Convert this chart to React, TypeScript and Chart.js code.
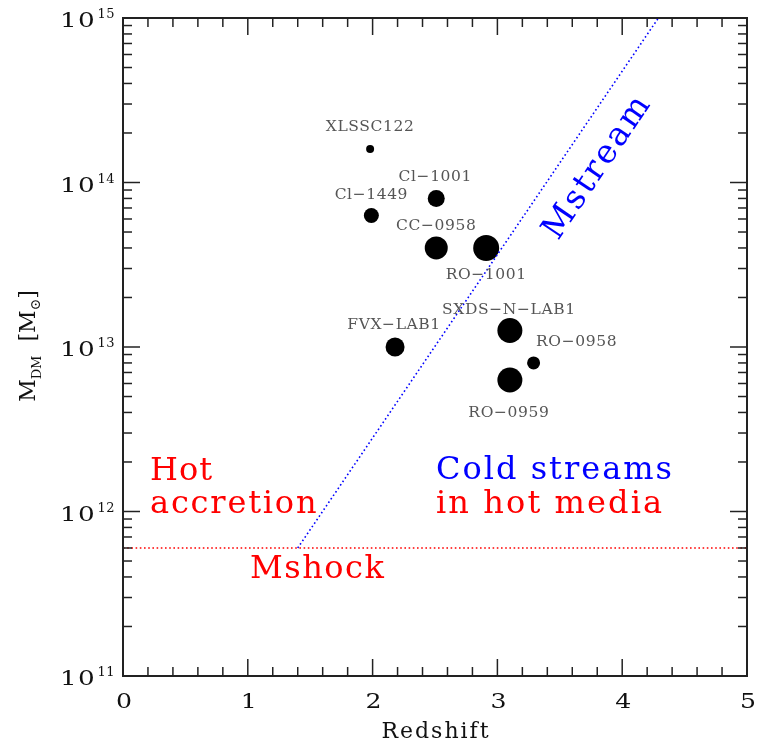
import React, { useEffect, useRef } from "react";
import { Chart, registerables } from "chart.js";

Chart.register(...registerables);

// ---- data ----
const clusterNames = ["XLSSC122", "Cl−1449", "Cl−1001", "CC−0958", "RO−1001", "FVX−LAB1", "SXDS−N−LAB1", "RO−0958", "RO−0959"];
const redshifts = [1.98, 1.99, 2.51, 2.51, 2.91, 2.18, 3.1, 3.29, 3.1];
const haloMasses = [1.6e14, 6.3e13, 8e13, 4e13, 4e13, 1e13, 1.26e13, 8e12, 6.3e12];
const markerRadii = [4, 7.5, 8.5, 11.5, 13, 9.5, 12.5, 6.5, 12.5];

const mshockZ = [0, 5];
const mshockMass = [6e11, 6e11];
const mstreamZ = [1.4, 4.29];
const mstreamMass = [6e11, 1e15];

const xTickValues = [0, 1, 2, 3, 4, 5];
const yTickExponents = [11, 12, 13, 14, 15];

// ---- layout (label offsets from their markers, px) ----
const labelOffsets: [number, number][] = [
  [0, -22], [0, -21], [-1, -21], [0, -22], [0, 27], [-1, -22], [-1, -21], [43, -21], [-1, 33],
];

const SERIF = '"DejaVu Serif", serif';

function txt(ctx: CanvasRenderingContext2D, s: string, x: number, y: number, size: number, color: string, align: CanvasTextAlign = "left", spacing = 0, baseline: CanvasTextBaseline = "alphabetic", scaleX = 1) {
  ctx.save();
  ctx.font = `${size}px ${SERIF}`;
  (ctx as any).letterSpacing = `${spacing}px`;
  ctx.fillStyle = color;
  ctx.textAlign = align;
  ctx.textBaseline = baseline;
  ctx.translate(x, y);
  ctx.scale(scaleX, 1);
  ctx.fillText(s, 0, 0);
  const w = ctx.measureText(s).width * scaleX;
  ctx.restore();
  return w;
}

const framePlugin = {
  id: "framePlugin",
  beforeDraw(chart: any) {
    const ctx = chart.ctx;
    ctx.save();
    ctx.fillStyle = "#fff";
    ctx.fillRect(0, 0, chart.width, chart.height);
    ctx.restore();
  },
  afterDraw(chart: any) {
    const ctx: CanvasRenderingContext2D = chart.ctx;
    const a = chart.chartArea;
    const xs = chart.scales.x;
    const ys = chart.scales.y;
    ctx.save();

    // frame
    ctx.strokeStyle = "#222";
    ctx.lineWidth = 2;
    ctx.strokeRect(a.left, a.top, a.right - a.left, a.bottom - a.top);

    // ticks
    ctx.lineWidth = 1.5;
    const line = (x1: number, y1: number, x2: number, y2: number) => {
      ctx.beginPath();
      ctx.moveTo(x1, y1);
      ctx.lineTo(x2, y2);
      ctx.stroke();
    };
    const xmin = xTickValues[0];
    const xmax = xTickValues[xTickValues.length - 1];
    for (let i = 0; i <= (xmax - xmin) * 5; i++) {
      const v = xmin + i * 0.2;
      const px = xs.getPixelForValue(v);
      const len = i % 5 === 0 ? 17 : 9;
      line(px, a.bottom, px, a.bottom - len);
      line(px, a.top, px, a.top + len);
    }
    for (let k = 0; k < yTickExponents.length; k++) {
      const e = yTickExponents[k];
      const maxM = k === yTickExponents.length - 1 ? 1 : 9;
      for (let m = 1; m <= maxM; m++) {
        const py = ys.getPixelForValue(m * Math.pow(10, e));
        const len = m === 1 ? 17 : 9;
        line(a.left, py, a.left + len, py);
        line(a.right, py, a.right - len, py);
      }
    }

    // y tick labels
    for (const e of yTickExponents) {
      const py = ys.getPixelForValue(Math.pow(10, e));
      txt(ctx, "10", 96, py + 9, 21, "#111", "right", 1, "alphabetic", 1.25);
      txt(ctx, String(e), 97.5, py, 13, "#111", "left", 0.5);
    }
    // x tick labels
    for (const v of xTickValues) {
      const px = xs.getPixelForValue(v);
      txt(ctx, String(v), px + 1, 708, 21, "#111", "center", 0, "alphabetic", 1.2);
    }
    // x title
    txt(ctx, "Redshift", (a.left + a.right) / 2 + 1, 738, 22, "#111", "center", 2);

    // y title (rotated)
    ctx.save();
    ctx.translate(35, 346);
    ctx.rotate(-Math.PI / 2);
    const pieces: [string, number, number][] = [
      ["M", 22, 0], ["DM", 13, 6], ["  [M", 22, 0], ["⊙", 14, 5], ["]", 22, 0],
    ];
    let total = 0;
    for (const [s, sz] of pieces) {
      ctx.font = `${sz}px ${SERIF}`;
      total += ctx.measureText(s).width;
    }
    let cx = -total / 2;
    for (const [s, sz, dy] of pieces) {
      cx += txt(ctx, s, cx, dy, sz, "#111", "left", 0);
    }
    ctx.restore();

    // cluster labels
    for (let i = 0; i < clusterNames.length; i++) {
      const px = xs.getPixelForValue(redshifts[i]);
      const py = ys.getPixelForValue(haloMasses[i]);
      const [dx, dy] = labelOffsets[i];
      txt(ctx, clusterNames[i], px + dx, py + dy, 15.5, "#555", "center", 0.6, "middle");
    }

    // region labels
    txt(ctx, "Hot", 150, 480, 32, "#ff0000", "left", 1);
    txt(ctx, "accretion", 150, 513, 32, "#ff0000", "left", 1.8);
    txt(ctx, "Cold streams", 436, 479, 32, "#0000ff", "left", 2);
    txt(ctx, "in hot media", 436, 513, 32, "#ff0000", "left", 2.1);
    txt(ctx, "Mshock", 250, 578, 32, "#ff0000", "left", 1.5);

    // Mstream label along line
    const x1 = xs.getPixelForValue(mstreamZ[0]);
    const y1 = ys.getPixelForValue(mstreamMass[0]);
    const x2 = xs.getPixelForValue(mstreamZ[1]);
    const y2 = ys.getPixelForValue(mstreamMass[1]);
    const ang = Math.atan2(y2 - y1, x2 - x1);
    ctx.save();
    ctx.translate(598, 167);
    ctx.rotate(ang);
    txt(ctx, "Mstream", 0, 0, 33, "#0000ff", "center", 2.5, "middle");
    ctx.restore();

    ctx.restore();
  },
};

export default function App() {
  const ref = useRef<HTMLCanvasElement | null>(null);
  useEffect(() => {
    if (!ref.current) return;
    const chart = new Chart(ref.current, {
      type: "scatter",
      data: {
        datasets: [
          {
            label: "Mstream",
            data: mstreamZ.map((z, i) => ({ x: z, y: mstreamMass[i] })),
            showLine: true,
            borderColor: "#0000ff",
            borderWidth: 1.6,
            borderDash: [1.6, 2.6],
            pointRadius: 0,
            fill: false,
          },
          {
            label: "Mshock",
            data: mshockZ.map((z, i) => ({ x: z, y: mshockMass[i] })),
            showLine: true,
            borderColor: "#ff0000",
            borderWidth: 1.6,
            borderDash: [1.6, 2.6],
            pointRadius: 0,
            fill: false,
          },
          {
            label: "Clusters",
            data: redshifts.map((z, i) => ({ x: z, y: haloMasses[i] })),
            pointRadius: markerRadii,
            pointBackgroundColor: "#000",
            pointBorderColor: "#000",
            pointBorderWidth: 0,
            showLine: false,
          },
        ],
      },
      options: {
        animation: false,
        responsive: false,
        devicePixelRatio: 1,
        layout: { padding: { left: 123, right: 16, top: 18, bottom: 65 } },
        plugins: { legend: { display: false }, tooltip: { enabled: false } },
        scales: {
          x: { type: "linear", min: 0, max: 5, display: false },
          y: { type: "logarithmic", min: 1e11, max: 1e15, display: false },
        },
      },
      plugins: [framePlugin],
    } as any);
    return () => chart.destroy();
  }, []);
  return (
    <div style={{ position: "absolute", left: 0, top: 0, width: 763, height: 741 }}>
      <canvas ref={ref} width={763} height={741} style={{ width: 763, height: 741 }} />
    </div>
  );
}
